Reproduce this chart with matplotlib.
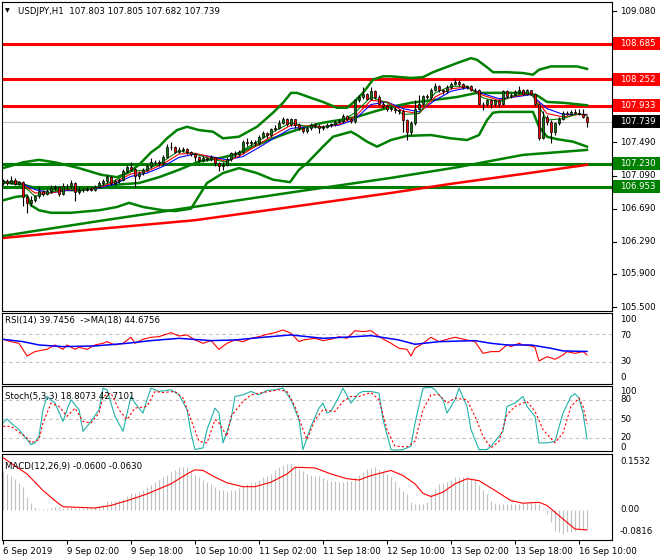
import matplotlib.pyplot as plt
from matplotlib.patches import Rectangle
from matplotlib.lines import Line2D
from matplotlib.transforms import blended_transform_factory

plt.rcParams['font.family'] = ['DejaVu Sans']

# --- candles (H1 bars, open = previous close) ---
close = [107.03, 107.00, 107.04, 106.99, 107.01, 106.83, 106.76, 106.80, 106.84, 106.90,
         106.87, 106.90, 106.94, 106.95, 106.87, 106.96, 106.96, 107.00, 106.89, 106.92,
         106.91, 106.93, 106.92, 106.95, 107.00, 107.02, 107.07, 107.00, 107.02, 107.04,
         107.14, 107.19, 107.17, 107.08, 107.12, 107.16, 107.20, 107.25, 107.26, 107.24,
         107.32, 107.43, 107.43, 107.38, 107.40, 107.41, 107.37, 107.35, 107.31, 107.28,
         107.30, 107.29, 107.31, 107.24, 107.20, 107.22, 107.29, 107.36, 107.35, 107.37,
         107.50, 107.48, 107.50, 107.48, 107.56, 107.60, 107.58, 107.65, 107.67, 107.73,
         107.77, 107.71, 107.77, 107.70, 107.66, 107.63, 107.66, 107.70, 107.69, 107.66,
         107.68, 107.70, 107.71, 107.74, 107.75, 107.81, 107.77, 107.75, 108.00, 108.04,
         108.08, 108.02, 108.11, 108.04, 107.96, 107.93, 107.90, 107.90, 107.88, 107.87,
         107.76, 107.62, 107.72, 107.90, 107.96, 108.05, 108.04, 108.13, 108.17, 108.12,
         108.11, 108.16, 108.20, 108.22, 108.20, 108.16, 108.17, 108.13, 108.12, 107.96,
         107.95, 108.00, 107.95, 108.00, 107.96, 108.11, 108.05, 108.07, 108.10, 108.13,
         108.08, 108.12, 108.08, 107.96, 107.55, 107.80, 107.74, 107.62, 107.72, 107.78,
         107.85, 107.84, 107.86, 107.85, 107.84, 107.803, 107.739]
high = [107.05, 107.05, 107.08, 107.06, 107.03, 107.02, 106.86, 106.84, 106.86, 106.95,
        106.92, 106.93, 106.97, 106.97, 106.96, 107.00, 106.99, 107.04, 107.01, 106.95,
        106.94, 106.95, 106.95, 106.97, 107.02, 107.05, 107.10, 107.08, 107.05, 107.06,
        107.17, 107.22, 107.25, 107.18, 107.14, 107.18, 107.23, 107.30, 107.28, 107.28,
        107.34, 107.47, 107.50, 107.45, 107.43, 107.43, 107.42, 107.39, 107.36, 107.33,
        107.33, 107.32, 107.34, 107.32, 107.26, 107.25, 107.31, 107.38, 107.39, 107.40,
        107.52, 107.54, 107.52, 107.52, 107.58, 107.63, 107.62, 107.67, 107.70, 107.76,
        107.80, 107.79, 107.79, 107.78, 107.72, 107.68, 107.68, 107.72, 107.72, 107.71,
        107.70, 107.72, 107.73, 107.76, 107.78, 107.83, 107.82, 107.79, 108.02, 108.07,
        108.16, 108.09, 108.16, 108.12, 108.06, 107.98, 107.95, 107.93, 107.92, 107.90,
        107.89, 107.78, 107.75, 108.00, 108.06, 108.07, 108.08, 108.15, 108.21, 108.18,
        108.14, 108.18, 108.22, 108.26, 108.24, 108.21, 108.19, 108.18, 108.15, 108.14,
        107.98, 108.02, 108.01, 108.02, 108.01, 108.13, 108.12, 108.09, 108.12, 108.17,
        108.14, 108.14, 108.13, 108.09, 107.97, 107.87, 107.82, 107.76, 107.74, 107.80,
        107.87, 107.87, 107.88, 107.90, 107.90, 107.90, 107.805]
low = [106.98, 106.98, 106.99, 106.97, 106.97, 106.72, 106.64, 106.72, 106.77, 106.82,
       106.84, 106.85, 106.88, 106.92, 106.84, 106.86, 106.93, 106.94, 106.78, 106.87,
       106.89, 106.90, 106.90, 106.90, 106.94, 106.98, 107.00, 106.98, 106.98, 107.00,
       107.02, 107.12, 107.14, 106.95, 107.05, 107.10, 107.14, 107.18, 107.22, 107.21,
       107.22, 107.30, 107.40, 107.36, 107.36, 107.38, 107.35, 107.33, 107.27, 107.26,
       107.26, 107.27, 107.27, 107.20, 107.15, 107.16, 107.20, 107.27, 107.32, 107.33,
       107.35, 107.45, 107.45, 107.45, 107.46, 107.54, 107.55, 107.56, 107.63, 107.65,
       107.71, 107.69, 107.69, 107.67, 107.64, 107.60, 107.61, 107.64, 107.67, 107.60,
       107.64, 107.66, 107.68, 107.69, 107.72, 107.73, 107.75, 107.72, 107.73, 107.98,
       108.02, 108.00, 108.00, 108.02, 107.94, 107.91, 107.87, 107.87, 107.85, 107.84,
       107.62, 107.52, 107.58, 107.70, 107.88, 107.94, 108.01, 108.02, 108.11, 108.10,
       108.08, 108.09, 108.14, 108.18, 108.17, 108.14, 108.14, 108.11, 108.10, 107.94,
       107.88, 107.93, 107.91, 107.93, 107.92, 107.94, 108.03, 108.03, 108.05, 108.08,
       108.06, 108.06, 108.06, 107.93, 107.52, 107.53, 107.70, 107.48, 107.58, 107.70,
       107.76, 107.82, 107.82, 107.83, 107.82, 107.79, 107.682]
first_open = 107.00

# --- Bollinger bands (sparse, bar index / price) ---
bb_up_x = [0, 5, 9, 13, 19, 24.5, 28.5, 31.5, 34, 37, 39, 41, 43.5, 46, 49, 52.5, 55, 59, 63.5,
           67.5, 70, 72, 73.5, 77, 80, 83.5, 86, 87.5, 90, 92.5, 95, 97, 102, 105, 107.5, 113.5,
           117, 118.5, 121, 122.5, 126, 130, 132.5, 134, 137, 143.5, 146]
bb_up = [107.18, 107.25, 107.28, 107.25, 107.18, 107.10, 107.07, 107.13, 107.22, 107.37, 107.44,
         107.54, 107.64, 107.68, 107.64, 107.62, 107.54, 107.56, 107.68, 107.85, 107.97, 108.09,
         108.09, 108.03, 107.98, 107.91, 107.91, 107.97, 108.09, 108.25, 108.29, 108.29, 108.27,
         108.28, 108.34, 108.45, 108.51, 108.49, 108.40, 108.34, 108.34, 108.33, 108.31, 108.37,
         108.41, 108.41, 108.38]
bb_mid_x = [0, 5, 9, 19, 28.5, 34, 39, 44, 49, 55, 59, 63.5, 67.5, 72, 76, 80, 84, 88.5, 92.5, 97,
            102, 107, 113.5, 118.5, 126, 130, 133.5, 136, 140, 146]
bb_mid = [107.01, 106.98, 106.93, 106.91, 106.98, 107.00, 107.07, 107.16, 107.26, 107.31, 107.36,
          107.46, 107.54, 107.62, 107.68, 107.73, 107.76, 107.80, 107.86, 107.92, 107.97, 108.00,
          108.04, 108.09, 108.09, 108.09, 108.06, 107.98, 107.97, 107.94]
bb_lo_x = [0, 3, 6, 7, 9, 12, 17, 24, 28.5, 31.5, 35, 40, 43, 47, 51, 55, 59, 63.5, 67.5, 71.75,
           74, 76, 80, 82.5, 87, 88.5, 91, 93.5, 97, 101, 107, 112, 116, 119, 121, 122.5, 124,
           132.5, 134, 136, 138.5, 142.5, 146]
bb_lo = [106.79, 106.83, 106.85, 106.73, 106.67, 106.64, 106.64, 106.67, 106.71, 106.76, 106.71,
         106.67, 106.66, 106.69, 107.00, 107.12, 107.18, 107.12, 107.04, 107.01, 107.16, 107.24,
         107.44, 107.56, 107.62, 107.58, 107.50, 107.44, 107.52, 107.57, 107.58, 107.54, 107.52,
         107.58, 107.76, 107.85, 107.86, 107.86, 107.68, 107.56, 107.53, 107.50, 107.44]

# --- short moving averages ---
ma_x = [0, 4, 8, 12, 16, 20, 24, 28, 32, 36, 40, 44, 48, 52, 56, 60, 64, 68, 72, 76, 80, 84, 88,
        92, 96, 100, 104, 108, 112, 116, 120, 124, 128, 132, 136, 140, 144, 146]
ma_fast = [107.02, 107.01, 106.84, 106.89, 106.93, 106.92, 106.96, 107.03, 107.14, 107.16, 107.26,
           107.39, 107.35, 107.29, 107.25, 107.40, 107.51, 107.63, 107.73, 107.68, 107.67, 107.73,
           107.85, 108.04, 107.97, 107.83, 107.84, 108.09, 108.17, 108.17, 108.03, 107.98, 108.06,
           108.09, 107.76, 107.78, 107.84, 107.81]
ma_mid = [107.02, 107.01, 106.88, 106.88, 106.92, 106.92, 106.95, 107.01, 107.11, 107.14, 107.23,
          107.35, 107.36, 107.31, 107.26, 107.35, 107.47, 107.59, 107.70, 107.69, 107.68, 107.71,
          107.80, 108.00, 107.98, 107.87, 107.84, 108.04, 108.14, 108.16, 108.06, 108.00, 108.05,
          108.08, 107.84, 107.80, 107.83, 107.82]
ma_slow = [107.02, 107.01, 106.92, 106.88, 106.91, 106.92, 106.94, 106.99, 107.08, 107.12, 107.20,
           107.31, 107.35, 107.32, 107.28, 107.32, 107.43, 107.55, 107.66, 107.68, 107.68, 107.70,
           107.77, 107.95, 107.98, 107.90, 107.86, 108.00, 108.11, 108.15, 108.08, 108.02, 108.04,
           108.07, 107.90, 107.83, 107.83, 107.83]

# --- long moving averages ---
long_g_x = [0, 24, 49, 74, 96.75, 113.5, 130, 146]
long_g = [106.36, 106.54, 106.72, 106.90, 107.06, 107.19, 107.34, 107.40]
long_r_x = [0, 24, 48, 72, 97, 112, 130, 146]
long_r = [106.335, 106.445, 106.55, 106.71, 106.88, 106.99, 107.11, 107.22]

red_levels = [108.685, 108.252, 107.933]
green_levels = [107.230, 106.953]
last_price = 107.739
price_ticks = [109.080, 107.890, 107.490, 107.090, 106.690, 106.290, 105.900, 105.500]

# --- RSI ---
rsi_x = [0, 2, 4, 6, 8, 10, 11, 13, 15, 16, 18, 19, 21, 23, 25, 26, 28, 30, 32, 33, 35, 37, 39, 42,
         44, 46, 48, 50, 52, 54, 56, 58, 60, 62, 64, 66, 68, 70, 72, 74, 75, 78, 80, 82, 84, 86,
         88, 90, 92, 94, 97, 99, 101, 102, 103, 105, 107, 109, 111, 113, 116, 118, 120, 122, 124,
         126, 127, 129, 130, 132, 133, 134, 136, 138, 140, 141, 143, 145, 146]
rsi = [62.3, 58.9, 56.5, 38.2, 44.5, 46.9, 47.8, 54.1, 47.8, 54.1, 47.8, 50.7, 47.8, 54.1, 56.5,
       58.9, 54.1, 56.5, 65.2, 56.5, 62.3, 65.2, 66.1, 71.9, 67.1, 68.6, 61.3, 56.5, 60.4, 47.8,
       56.5, 61.3, 58.9, 63.7, 66.1, 69.5, 71.9, 75.8, 71.0, 58.9, 61.3, 63.7, 60.4, 62.3, 66.1,
       63.7, 74.8, 73.4, 74.8, 66.1, 56.5, 49.3, 47.8, 38.2, 49.3, 56.5, 65.2, 58.9, 62.3, 65.2,
       61.3, 58.9, 42.0, 44.5, 44.5, 54.1, 51.7, 56.5, 54.1, 52.7, 50.7, 31.0, 37.2, 33.4, 39.6,
       44.5, 42.0, 44.5, 39.7]
rsi_ma_x = [0, 5, 9, 15, 23, 31, 37, 44, 52, 58, 65, 72, 80, 88, 92, 99, 103, 109, 118, 122, 126,
            132, 137, 140, 146]
rsi_ma = [62.3, 58.9, 54.1, 51.7, 52.7, 56.5, 60.4, 63.7, 60.4, 61.3, 65.2, 68.6, 63.7, 66.1, 67.6,
          61.3, 55.1, 58.9, 60.4, 56.5, 54.1, 54.1, 49.3, 45.5, 44.7]

# --- Stochastic ---
stk_x = [0, 1, 2, 4, 6, 7, 8, 9, 10, 11, 13, 15, 16, 17, 19, 20, 22, 24, 25, 26, 28, 30, 32, 33,
         35, 36, 37, 39, 42, 44, 46, 47, 48, 50, 51, 53, 54, 55, 57, 58, 60, 62, 64, 66, 68, 70,
         72, 74, 75, 77, 79, 80, 81, 82, 84, 85, 87, 89, 90, 92, 94, 95, 97, 98, 100, 102, 103,
         105, 107, 108, 110, 111, 113, 114, 116, 117, 119, 121, 122, 124, 125, 126, 128, 130,
         131, 133, 134, 136, 138, 140, 142, 143, 144, 145, 146]
stk = [43.7, 50.0, 43.7, 33.3, 17.7, 9.8, 12.4, 22.9, 64.6, 85.5, 75.0, 46.3, 64.6, 80.3, 64.6,
       30.7, 46.3, 64.6, 98.5, 95.9, 54.2, 30.7, 85.5, 75.0, 59.4, 80.3, 98.5, 93.3, 95.9, 88.1,
       64.6, 28.1, 2.0, 4.6, 33.3, 67.2, 59.4, 12.4, 49.0, 85.5, 88.1, 93.3, 88.1, 94.9, 95.9,
       98.5, 80.3, 49.0, 2.0, 38.5, 67.2, 75.0, 59.4, 62.0, 85.5, 98.5, 75.0, 90.7, 93.3, 93.3,
       90.7, 49.0, 2.0, 1.0, 2.0, 7.2, 43.7, 98.5, 100.0, 95.9, 80.3, 59.4, 80.3, 98.5, 69.8,
       33.3, 2.0, 2.0, 7.2, 22.9, 30.7, 69.8, 75.0, 85.5, 69.8, 54.2, 12.4, 12.4, 15.0, 59.4,
       85.5, 89.6, 82.9, 59.4, 18.8]
std_x = [0, 2, 6, 7, 9, 10, 12, 14, 16, 18, 20, 22, 24, 25, 27, 29, 31, 33, 36, 38, 40, 43, 45,
         47, 49, 51, 53, 54, 56, 57, 60, 62, 65, 69, 71, 73, 75, 76, 78, 80, 83, 85, 87, 89, 92,
         94, 96, 98, 101, 103, 105, 107, 109, 111, 113, 116, 118, 120, 122, 124, 126, 128, 131,
         133, 135, 138, 140, 142, 144, 145, 146]
std = [38.5, 38.5, 20.3, 12.4, 17.7, 43.7, 75.0, 69.8, 54.2, 67.2, 46.3, 43.7, 59.4, 85.5, 90.7,
       64.6, 49.0, 67.2, 69.8, 93.3, 91.7, 93.3, 82.9, 49.0, 15.0, 12.4, 49.0, 43.7, 22.9, 54.2,
       77.6, 88.1, 91.7, 95.9, 93.3, 69.8, 33.3, 17.7, 49.0, 64.6, 62.0, 77.6, 85.5, 85.5, 91.7,
       80.3, 33.3, 7.2, 6.2, 15.0, 64.6, 88.1, 88.1, 75.0, 82.9, 80.3, 54.2, 22.9, 4.6, 15.0,
       56.8, 69.8, 77.6, 62.0, 33.3, 12.4, 28.1, 69.8, 82.9, 69.8, 42.7]

# --- MACD ---
macd_hist = [0.122, 0.113, 0.105, 0.098, 0.085, 0.071, 0.042, 0.021, 0.010, 0.004,
             0.002, 0.002, 0.006, 0.008, 0.008, 0.007, 0.008, 0.009, 0.007, 0.006,
             0.007, 0.008, 0.008, 0.010, 0.012, 0.014, 0.027, 0.028, 0.029, 0.032,
             0.035, 0.044, 0.052, 0.054, 0.056, 0.063, 0.071, 0.079, 0.087, 0.095,
             0.103, 0.111, 0.119, 0.126, 0.136, 0.136, 0.134, 0.119, 0.110, 0.103,
             0.094, 0.088, 0.082, 0.072, 0.063, 0.061, 0.059, 0.061, 0.063, 0.070,
             0.076, 0.082, 0.085, 0.087, 0.095, 0.103, 0.108, 0.113, 0.124, 0.134,
             0.140, 0.145, 0.143, 0.136, 0.129, 0.121, 0.113, 0.110, 0.107, 0.105,
             0.099, 0.094, 0.092, 0.090, 0.089, 0.089, 0.090, 0.092, 0.102, 0.111,
             0.120, 0.129, 0.133, 0.136, 0.129, 0.121, 0.113, 0.102, 0.092, 0.071,
             0.060, 0.050, 0.024, 0.020, 0.017, 0.020, 0.024, 0.050, 0.066, 0.082,
             0.085, 0.087, 0.095, 0.103, 0.103, 0.103, 0.103, 0.100, 0.098, 0.077,
             0.063, 0.050, 0.029, 0.023, 0.017, 0.018, 0.019, 0.019, 0.019, 0.020,
             0.021, 0.023, 0.024, 0.022, 0.019, 0.003, -0.013, -0.039, -0.065, -0.071,
             -0.076, -0.070, -0.068, -0.065, -0.062, -0.060, -0.060]
sig_x = [0, 6, 10, 13, 15, 23, 27, 31, 36, 42, 46, 48, 50, 53, 56, 60, 63, 67, 71, 73, 78, 82, 86,
         89, 92, 97, 100, 103, 105, 107, 110, 113, 116, 119, 123, 127, 130, 134, 136, 139, 141,
         143, 146]
sig = [0.164, 0.113, 0.061, 0.029, 0.010, 0.006, 0.014, 0.029, 0.050, 0.082, 0.113, 0.126, 0.124,
       0.103, 0.085, 0.073, 0.073, 0.087, 0.113, 0.134, 0.132, 0.113, 0.098, 0.094, 0.108, 0.124,
       0.108, 0.082, 0.052, 0.042, 0.056, 0.082, 0.098, 0.092, 0.061, 0.029, 0.021, 0.024, 0.014,
       -0.018, -0.039, -0.060, -0.063]

time_ticks = [0, 16, 32, 48, 64, 80, 96, 112, 128, 144]
time_labels = ['6 Sep 2019', '9 Sep 02:00', '9 Sep 18:00', '10 Sep 10:00', '11 Sep 02:00',
               '11 Sep 18:00', '12 Sep 10:00', '13 Sep 02:00', '13 Sep 18:00', '16 Sep 10:00']

W, H = 660, 560
FS = 6.2
fig = plt.figure(figsize=(W / 100, H / 100), dpi=100)


def panel(top, bottom):
    a = fig.add_axes([2 / W, 1 - bottom / H, 610 / W, (bottom - top) / H])
    a.set_xlim(-0.25, 152.25)
    a.set_xticks([])
    a.set_yticks([])
    for s in a.spines.values():
        s.set_color('black')
        s.set_linewidth(0.8)
    return a


ax = panel(2, 311)
ax.set_ylim(105.452, 109.189)
ax_rsi = panel(313, 384)
ax_rsi.set_ylim(-2.3, 100.3)
ax_st = panel(386, 451)
ax_st.set_ylim(-0.3, 101.9)
ax_m = panel(454, 540)
ax_m.set_ylim(-0.0946, 0.1757)

# main panel
for lv in red_levels:
    ax.axhline(lv, color='#ff0000', lw=2.2, zorder=1)
for lv in green_levels:
    ax.axhline(lv, color='#008000', lw=2.2, zorder=1)
ax.axhline(last_price, color='#c0c0c0', lw=0.8, zorder=1)

ax.plot(long_r_x, long_r, color='#ff0000', lw=1.8, zorder=2)
ax.plot(long_g_x, long_g, color='#008000', lw=1.8, zorder=2)
for xs, ys in [(bb_up_x, bb_up), (bb_mid_x, bb_mid), (bb_lo_x, bb_lo)]:
    ax.plot(xs, ys, color='#008000', lw=1.8, zorder=2)
ax.plot(ma_x, ma_slow, color='#0000ff', lw=0.8, zorder=3)
ax.plot(ma_x, ma_mid, color='#ff0000', lw=0.8, zorder=3)
ax.plot(ma_x, ma_fast, color='#008000', lw=0.8, zorder=3)

opens = [first_open] + close[:-1]
idx = list(range(len(close)))
ax.vlines(idx, low, high, color='black', lw=0.8, zorder=4)
bot = [min(o, c) for o, c in zip(opens, close)]
hgt = [max(abs(c - o), 0.006) for o, c in zip(opens, close)]
cols = ['#0b7a0b' if c >= o else '#ff0000' for o, c in zip(opens, close)]
ax.bar(idx, hgt, bottom=bot, width=0.72, color=cols, edgecolor='black', lw=0.5, zorder=5)

fig.text(5 / W, 1 - 11 / H, '\u25bc', fontsize=4.5, va='center', ha='left')
fig.text(18 / W, 1 - 11 / H, 'USDJPY,H1  107.803 107.805 107.682 107.739', fontsize=FS,
         va='center', ha='left')

tr = blended_transform_factory(fig.transFigure, ax.transData)
for v in price_ticks:
    fig.text(620 / W, v, f'{v:.3f}', transform=tr, fontsize=FS, va='center', ha='left')
    fig.add_artist(Line2D([612 / W, 616 / W], [v, v], transform=tr, color='black', lw=0.8))
boxes = [(lv, '#ff0000') for lv in red_levels] + [(last_price, 'black')] + \
        [(lv, '#008000') for lv in green_levels]
bh = 13 / 82.68
for v, fc in boxes:
    fig.add_artist(Rectangle((613 / W, v - bh / 2), 47 / W, bh, transform=tr, fc=fc,
                             ec='none', zorder=5))
    fig.text(620 / W, v, f'{v:.3f}', transform=tr, fontsize=FS, va='center', ha='left',
             color='white', zorder=6)
    fig.add_artist(Line2D([612 / W, 616 / W], [v, v], transform=tr, color='black', lw=0.8))

# RSI
for lv in (70, 30):
    ax_rsi.axhline(lv, color='#c0c0c0', lw=0.8, ls=(0, (3, 3)))
ax_rsi.plot(rsi_x, rsi, color='#ff0000', lw=0.8)
ax_rsi.plot(rsi_ma_x, rsi_ma, color='#0000ff', lw=1.1)
fig.text(5 / W, 1 - 321 / H, 'RSI(14) 39.7456  ->MA(18) 44.6756', fontsize=FS, va='center')
for txt, y in [('100', 319), ('70', 335), ('30', 362), ('0', 377)]:
    fig.text(620 / W, 1 - y / H, txt, fontsize=FS, va='center')

# Stochastic
for lv in (80, 50, 20):
    ax_st.axhline(lv, color='#c0c0c0', lw=0.8, ls=(0, (3, 3)))
ax_st.plot(stk_x, stk, color='#20b2aa', lw=0.8)
ax_st.plot(std_x, std, color='#ff0000', lw=0.8, ls=(0, (2, 2)))
fig.text(5 / W, 1 - 396 / H, 'Stoch(5,3,3) 18.8073 42.7101', fontsize=FS, va='center')
for txt, y in [('100', 391), ('80', 400), ('50', 419), ('20', 437), ('0', 447)]:
    fig.text(620 / W, 1 - y / H, txt, fontsize=FS, va='center')

# MACD
ax_m.vlines(idx, 0, macd_hist, color='#c0c0c0', lw=0.8)
ax_m.plot(sig_x, sig, color='#ff0000', lw=0.8)
fig.text(5 / W, 1 - 466 / H, 'MACD(12,26,9) -0.0600 -0.0630', fontsize=FS, va='center')
for txt, y in [('0.1532', 461), ('0.00', 509), ('-0.0816', 532)]:
    fig.text(620 / W, 1 - y / H, txt, fontsize=FS, va='center')

ax_m.set_xticks(time_ticks)
ax_m.set_xticklabels(time_labels, fontsize=FS, ha='left')
ax_m.tick_params(axis='x', direction='out', length=3, width=0.8, pad=2)

fig.savefig('out.png', dpi=100)
